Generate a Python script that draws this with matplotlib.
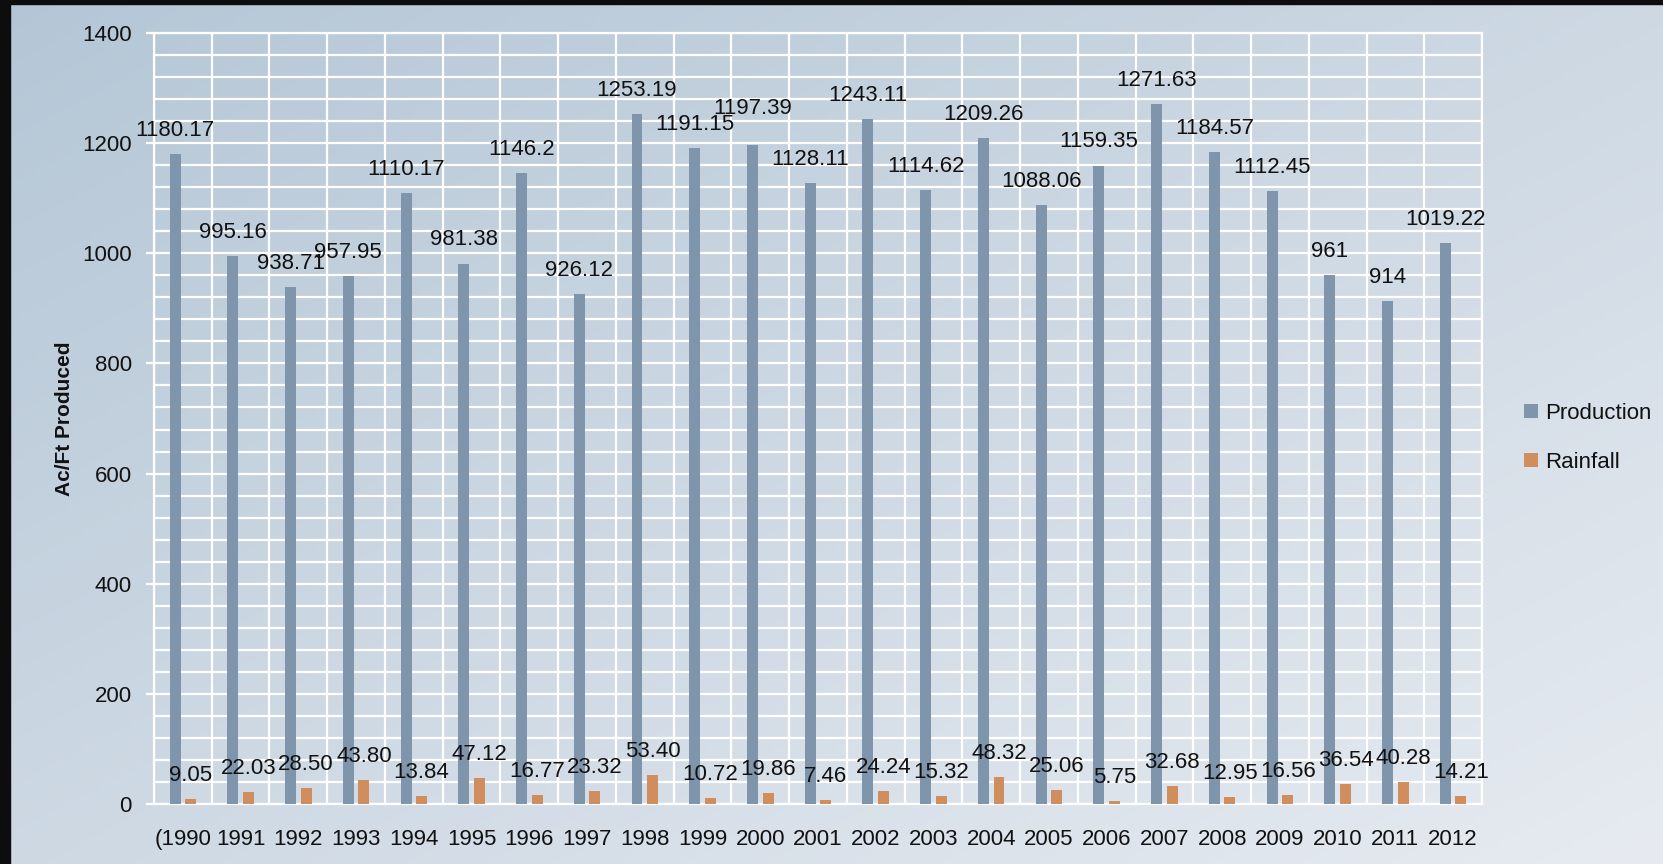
import numpy as np
import matplotlib
matplotlib.use("Agg")
import matplotlib.pyplot as plt
from matplotlib.patches import Rectangle
from matplotlib.ticker import MultipleLocator, FixedLocator

years = ["(1990", "1991", "1992", "1993", "1994", "1995", "1996", "1997", "1998", "1999",
         "2000", "2001", "2002", "2003", "2004", "2005", "2006", "2007", "2008", "2009",
         "2010", "2011", "2012"]
production = [1180.17, 995.16, 938.71, 957.95, 1110.17, 981.38, 1146.2, 926.12, 1253.19,
              1191.15, 1197.39, 1128.11, 1243.11, 1114.62, 1209.26, 1088.06, 1159.35,
              1271.63, 1184.57, 1112.45, 961, 914, 1019.22]
production_labels = ["1180.17", "995.16", "938.71", "957.95", "1110.17", "981.38", "1146.2",
                     "926.12", "1253.19", "1191.15", "1197.39", "1128.11", "1243.11",
                     "1114.62", "1209.26", "1088.06", "1159.35", "1271.63", "1184.57",
                     "1112.45", "961", "914", "1019.22"]
rainfall = [9.05, 22.03, 28.50, 43.80, 13.84, 47.12, 16.77, 23.32, 53.40, 10.72, 19.86,
            7.46, 24.24, 15.32, 48.32, 25.06, 5.75, 32.68, 12.95, 16.56, 36.54, 40.28, 14.21]
rainfall_labels = ["%.2f" % v for v in rainfall]

plt.rcParams['font.family'] = ['Liberation Sans', 'DejaVu Sans']
FS = 16
W, H = 1663, 864
fig = plt.figure(figsize=(W / 100, H / 100), dpi=100)

# background gradient
bg = fig.add_axes([0, 0, 1, 1], zorder=-10)
xx, yy = np.meshgrid(np.linspace(0, 1, 400), np.linspace(0, 1, 200))
t = 0.5 * xx + 0.5 * yy
c0 = np.array([180, 198, 214]) / 255.0
c1 = np.array([231, 235, 241]) / 255.0
img = c0[None, None, :] * (1 - t[..., None]) + c1[None, None, :] * t[..., None]
bg.imshow(img, aspect='auto', extent=[0, 1, 0, 1], origin='upper')
bg.set_xlim(0, 1)
bg.set_ylim(0, 1)
bg.axis('off')
fig.patches.append(Rectangle((0, 1 - 4 / H), 1, 4 / H, transform=fig.transFigure,
                             color='#0d0d0d', zorder=5))
fig.patches.append(Rectangle((0, 0), 10 / W, 1, transform=fig.transFigure,
                             color='#0d0d0d', zorder=5))

ax = fig.add_axes([154 / W, 60 / H, (1482 - 154) / W, (804 - 33) / H])
ax.patch.set_alpha(0)

x = np.arange(len(years))
off = 0.135
bw = 0.19
b1 = ax.bar(x - off, production, bw, color='#7f95ac', label='Production', zorder=3)
b2 = ax.bar(x + off, rainfall, bw, color='#d08e5e', label='Rainfall', zorder=3)

for i, (xi, v, s) in enumerate(zip(x, production, production_labels)):
    # the 2000 label sits higher in the original to clear its neighbour
    dy = 22 if years[i] == "2000" else 13
    ax.annotate(s, (xi - off, v), xytext=(0, dy), textcoords='offset points',
                ha='center', va='baseline', fontsize=FS, color='#111111', zorder=4)
for xi, v, s in zip(x, rainfall, rainfall_labels):
    ax.annotate(s, (xi + off, v), xytext=(0, 13), textcoords='offset points',
                ha='center', va='baseline', fontsize=FS, color='#111111', zorder=4)

ax.set_xlim(-0.5, len(years) - 0.5)
ax.set_ylim(0, 1400)
ax.yaxis.set_major_locator(MultipleLocator(200))
ax.yaxis.set_minor_locator(MultipleLocator(40))
ax.set_xticks(x)
ax.set_xticklabels(years, fontsize=FS, color='#111111')
ax.xaxis.set_minor_locator(FixedLocator(np.arange(-0.5, len(years), 1.0)))
ax.tick_params(axis='x', which='both', length=0, pad=18)
ax.tick_params(axis='y', which='major', length=6, width=1.6, color='white', pad=10,
               labelsize=FS, labelcolor='#111111')
ax.tick_params(axis='y', which='minor', length=0)
ax.grid(True, which='both', color='white', linewidth=1.6, zorder=0)
ax.xaxis.grid(True, which='major', alpha=0)
ax.set_axisbelow(True)
for sp in ax.spines.values():
    sp.set_color('white')
    sp.set_linewidth(1.6)

fig.text(64 / W, 1 - 419 / H, 'Ac/Ft Produced', rotation=90, ha='center', va='center',
         fontsize=15, fontweight='bold', color='#111111')

leg = ax.legend(handles=[b1, b2], loc='upper left',
                bbox_to_anchor=(1524 / W, 1 - 403 / H), bbox_transform=fig.transFigure,
                frameon=False, fontsize=FS, borderpad=0, borderaxespad=0,
                handlelength=0.62, handleheight=0.62, handletextpad=0.35, labelspacing=1.25)
for txt in leg.get_texts():
    txt.set_color('#111111')

fig.savefig('out.png', dpi=100)
